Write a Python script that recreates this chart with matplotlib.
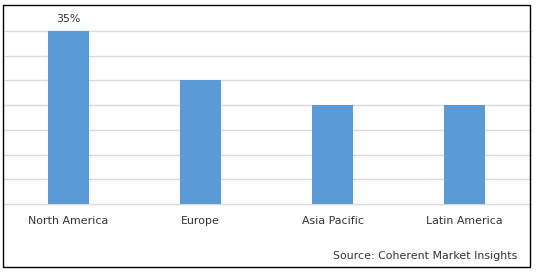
import matplotlib
matplotlib.use("Agg")
import matplotlib.pyplot as plt
from matplotlib.patches import Rectangle

# chart data
regions = ["North America", "Europe", "Asia Pacific", "Latin America"]
shares = [35, 25, 20, 20]
labelled = {0: "35%"}
grid_ticks = [0, 5, 10, 15, 20, 25, 30, 35]

W, H = 538, 272
FS = 7.9
TXT = "#333333"
fig = plt.figure(figsize=(W / 100, H / 100), dpi=100)

# outer frame
fig.patches.append(Rectangle((3 / W, 5 / H), 527 / W, 262 / H, transform=fig.transFigure,
                             fill=False, edgecolor="black", linewidth=1.0))

ax = fig.add_axes([2.5 / W, (H - 204) / H, 528 / W, 173 / H])
x = range(len(regions))
ax.bar(x, shares, width=0.31, color="#5B9BD5", zorder=3)
ax.set_xlim(-0.5, 3.5)
ax.set_ylim(0, 35)
ax.set_yticks(grid_ticks)
ax.set_yticklabels([])
ax.grid(axis="y", color="#D9D9D9", linewidth=1.0, zorder=0)
for gl in ax.get_ygridlines():
    gl.set_clip_on(False)
ax.set_xticks(list(x))
ax.set_xticklabels(regions, fontsize=FS, color=TXT)
ax.tick_params(axis="both", length=0)
ax.tick_params(axis="x", pad=9)
for s in ax.spines.values():
    s.set_visible(False)
ax.patch.set_alpha(0)

for i, txt in labelled.items():
    ax.annotate(txt, (i, shares[i]), xytext=(0, 5), textcoords="offset points",
                ha="center", va="bottom", fontsize=FS, color=TXT,
                annotation_clip=False)

fig.text(517 / W, (H - 256) / H, "Source: Coherent Market Insights", ha="right",
         va="center", fontsize=FS, color=TXT)

fig.savefig("out.png", dpi=100)
